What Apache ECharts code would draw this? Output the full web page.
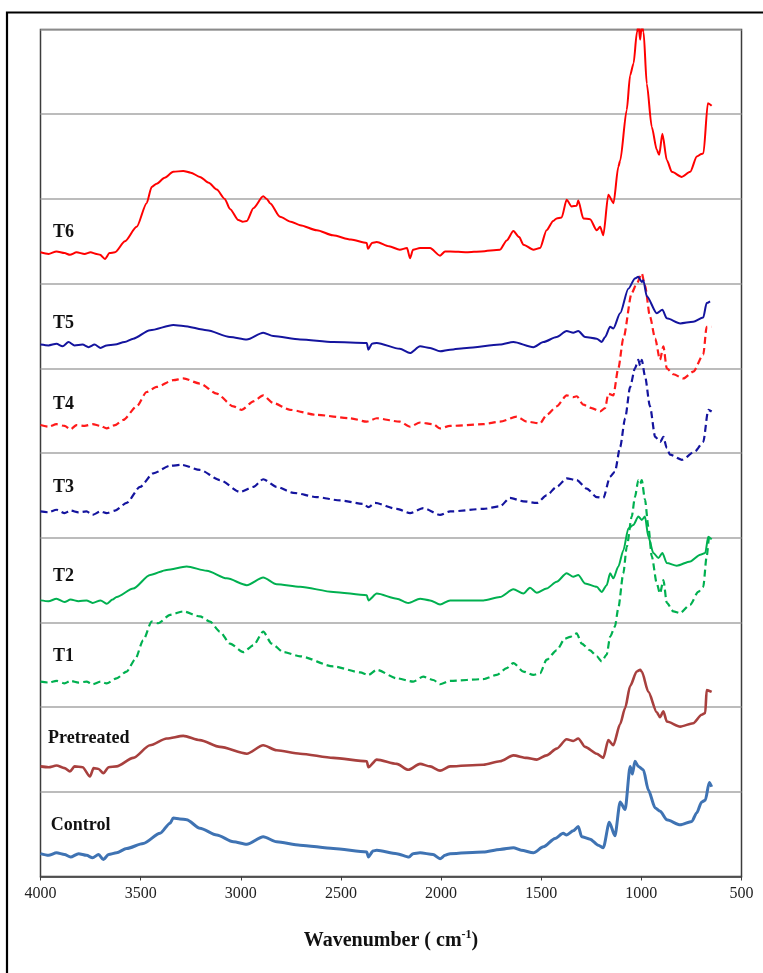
<!DOCTYPE html>
<html>
<head>
<meta charset="utf-8">
<script src="https://cdn.jsdelivr.net/npm/echarts@6/dist/echarts.min.js"></script>
<style>
  html, body { margin: 0; padding: 0; background: #fff; }
  #chart { width: 763px; height: 973px; }
</style>
</head>
<body>
<div id="chart"></div>
<script>
// FTIR spectra, stacked with vertical offsets (one grid band per sample).
// Each array holds [wavenumber (cm-1), offset absorbance] pairs.

const seriesNames = ['T6', 'T5', 'T4', 'T3', 'T2', 'T1', 'Pretreated', 'Control'];

const t6 = [
  [4000,7.37],[3960,7.35],[3920,7.38],[3880,7.36],[3853,7.34],[3820,7.37],[3780,7.35],[3750,7.37],[3720,7.35],[3703,7.34],[3678,7.29],[3655,7.36],[3628,7.37],
  [3578,7.50],[3520,7.67],[3470,7.95],[3445,8.14],[3420,8.18],[3380,8.25],[3337,8.32],[3287,8.33],[3250,8.31],[3204,8.26],[3160,8.19],[3120,8.11],
  [3080,8.00],[3054,7.88],[3012,7.75],[2990,7.73],[2970,7.74],[2937,7.89],[2888,8.03],[2870,8.00],[2854,7.95],[2804,7.79],[2750,7.73],[2704,7.69],
  [2620,7.63],[2540,7.57],[2450,7.52],[2371,7.48],[2365,7.41],[2345,7.48],[2321,7.49],[2260,7.44],[2206,7.40],[2170,7.42],[2155,7.30],[2140,7.40],
  [2105,7.42],[2055,7.42],[2005,7.33],[1980,7.38],[1955,7.38],[1872,7.37],[1800,7.38],[1706,7.40],[1672,7.51],[1639,7.62],[1610,7.55],[1589,7.46],
  [1539,7.40],[1506,7.42],[1473,7.63],[1440,7.74],[1423,7.77],[1398,7.78],[1373,7.99],[1348,7.91],[1323,7.92],[1315,7.98],[1290,7.77],[1256,7.76],
  [1223,7.63],[1206,7.67],[1190,7.57],[1165,8.05],[1139,7.95],[1115,8.38],[1106,8.45],[1073,9.05],[1056,9.46],[1039,9.60],[1022,9.97],[1014,10.05],
  [1006,9.88],[998,10.05],[989,9.97],[973,9.36],[948,8.85],[923,8.58],[911,8.52],[895,8.77],[873,8.46],[848,8.32],[798,8.26],[756,8.32],
  [723,8.50],[700,8.53],[690,8.54],[668,9.13],[649,9.10]
];

const t5 = [
  [4000,6.28],[3960,6.27],[3920,6.29],[3890,6.26],[3860,6.31],[3830,6.27],[3790,6.28],[3760,6.25],[3730,6.28],[3700,6.24],[3670,6.27],[3628,6.28],
  [3580,6.31],[3537,6.35],[3453,6.45],[3337,6.51],[3287,6.50],[3170,6.45],[3054,6.37],[2970,6.34],[2888,6.42],[2838,6.38],[2704,6.34],
  [2538,6.31],[2371,6.30],[2363,6.22],[2345,6.29],[2321,6.30],[2206,6.23],[2155,6.18],[2105,6.26],[2055,6.24],[2005,6.20],[1955,6.22],
  [1872,6.24],[1706,6.28],[1639,6.31],[1539,6.25],[1489,6.31],[1423,6.37],[1373,6.44],[1340,6.42],[1315,6.44],[1281,6.37],[1223,6.35],
  [1198,6.31],[1181,6.37],[1156,6.49],[1140,6.47],[1106,6.65],[1065,6.94],[1032,7.06],[1015,7.08],[998,7.02],[990,7.04],[973,6.85],
  [923,6.65],[895,6.69],[873,6.59],[806,6.53],[741,6.55],[691,6.60],[674,6.77],[657,6.79]
];

const t4 = [
  [4000,5.33],[3960,5.31],[3920,5.34],[3880,5.32],[3850,5.28],[3820,5.33],[3780,5.32],[3740,5.34],[3700,5.32],[3670,5.29],[3628,5.33],
  [3587,5.39],[3520,5.55],[3470,5.72],[3420,5.78],[3337,5.86],[3287,5.88],[3204,5.82],[3120,5.70],[3037,5.55],[2995,5.51],[2937,5.61],
  [2888,5.68],[2838,5.59],[2754,5.51],[2621,5.45],[2454,5.41],[2371,5.37],[2321,5.41],[2206,5.37],[2155,5.31],[2105,5.36],[2039,5.34],
  [2005,5.29],[1955,5.32],[1789,5.34],[1706,5.37],[1622,5.43],[1572,5.37],[1506,5.35],[1473,5.45],[1423,5.55],[1373,5.68],[1340,5.66],
  [1323,5.67],[1290,5.57],[1248,5.53],[1206,5.49],[1181,5.53],[1165,5.70],[1140,5.68],[1115,6.00],[1090,6.35],[1048,6.89],[1023,7.00],
  [998,7.12],[982,6.98],[957,6.61],[931,6.35],[907,6.10],[890,6.26],[873,6.00],[840,5.93],[790,5.88],[741,5.96],[691,6.16],[674,6.49],[649,6.49]
];

const t3 = [
  [4000,4.31],[3960,4.30],[3920,4.33],[3880,4.29],[3850,4.32],[3810,4.30],[3770,4.31],[3740,4.27],[3700,4.31],[3670,4.29],[3628,4.32],
  [3570,4.41],[3503,4.60],[3437,4.76],[3353,4.85],[3295,4.86],[3204,4.80],[3104,4.68],[3004,4.54],[2937,4.60],[2888,4.69],[2821,4.60],
  [2738,4.53],[2621,4.48],[2504,4.44],[2388,4.40],[2363,4.36],[2330,4.41],[2221,4.34],[2155,4.29],[2089,4.35],[2005,4.27],[1955,4.31],
  [1789,4.34],[1706,4.37],[1656,4.47],[1589,4.43],[1522,4.41],[1473,4.50],[1423,4.60],[1373,4.70],[1323,4.68],[1273,4.58],[1223,4.48],
  [1190,4.47],[1156,4.72],[1132,4.78],[1106,5.07],[1081,5.41],[1056,5.78],[1032,6.00],[1015,6.10],[1006,6.03],[998,6.10],[982,5.91],
  [957,5.55],[931,5.19],[906,5.13],[890,5.19],[873,5.06],[857,4.98],[798,4.92],[732,5.02],[691,5.13],[666,5.51],[649,5.49]
];

const t2 = [
  [4000,3.26],[3960,3.25],[3920,3.28],[3880,3.24],[3850,3.27],[3810,3.25],[3770,3.26],[3740,3.23],[3700,3.26],[3670,3.22],[3640,3.27],
  [3620,3.30],[3537,3.40],[3453,3.56],[3370,3.62],[3270,3.66],[3170,3.61],[3070,3.52],[2970,3.44],[2888,3.53],[2821,3.45],[2704,3.42],
  [2538,3.36],[2371,3.32],[2363,3.26],[2321,3.34],[2221,3.28],[2164,3.23],[2105,3.28],[2055,3.26],[2005,3.21],[1955,3.26],[1789,3.26],
  [1706,3.30],[1639,3.39],[1589,3.34],[1556,3.41],[1522,3.35],[1473,3.40],[1423,3.48],[1373,3.58],[1340,3.54],[1315,3.56],[1281,3.46],
  [1223,3.42],[1198,3.36],[1173,3.44],[1156,3.58],[1140,3.52],[1115,3.66],[1090,3.85],[1065,4.11],[1040,4.15],[1015,4.25],[998,4.21],
  [982,4.25],[965,4.01],[940,3.82],[915,3.76],[895,3.82],[873,3.70],[823,3.67],[756,3.72],[706,3.80],[681,3.82],[666,4.01],[649,3.98]
];

const t1 = [
  [4000,2.30],[3960,2.29],[3920,2.31],[3880,2.28],[3850,2.31],[3810,2.29],[3770,2.30],[3740,2.27],[3700,2.30],[3670,2.28],
  [3620,2.34],[3570,2.42],[3528,2.56],[3487,2.79],[3445,3.01],[3412,2.99],[3353,3.09],[3287,3.13],[3204,3.07],[3154,3.01],[3104,2.89],
  [3054,2.75],[2987,2.65],[2937,2.73],[2888,2.89],[2846,2.75],[2788,2.65],[2704,2.60],[2538,2.48],[2404,2.41],[2363,2.38],[2321,2.44],
  [2221,2.34],[2139,2.30],[2089,2.36],[2039,2.32],[2005,2.27],[1955,2.31],[1789,2.33],[1722,2.38],[1672,2.46],[1639,2.52],[1589,2.42],
  [1539,2.38],[1506,2.40],[1473,2.56],[1423,2.67],[1381,2.81],[1356,2.83],[1323,2.87],[1298,2.75],[1256,2.67],[1223,2.60],[1198,2.54],
  [1173,2.62],[1156,2.83],[1132,2.95],[1115,3.17],[1090,3.58],[1073,3.89],[1048,4.25],[1032,4.48],[1015,4.68],[1006,4.64],[998,4.68],
  [982,4.45],[965,4.13],[948,3.78],[923,3.46],[907,3.34],[890,3.50],[873,3.23],[840,3.13],[807,3.11],[756,3.21],[716,3.36],[691,3.42],
  [674,3.78],[661,4.01],[649,3.98]
];

const pretreated = [
  [4000,1.30],[3960,1.29],[3920,1.31],[3880,1.28],[3853,1.24],[3830,1.30],[3790,1.29],[3753,1.18],[3735,1.28],[3710,1.27],[3686,1.22],[3660,1.29],
  [3620,1.30],[3537,1.40],[3453,1.55],[3370,1.63],[3287,1.66],[3204,1.61],[3104,1.53],[2970,1.45],[2888,1.55],[2821,1.49],[2704,1.45],
  [2538,1.40],[2371,1.36],[2363,1.29],[2321,1.38],[2221,1.33],[2164,1.26],[2105,1.33],[2055,1.30],[2005,1.25],[1955,1.30],[1789,1.32],
  [1706,1.36],[1639,1.43],[1572,1.40],[1522,1.38],[1473,1.43],[1423,1.51],[1373,1.62],[1340,1.60],[1315,1.63],[1281,1.53],[1223,1.45],
  [1190,1.40],[1165,1.61],[1140,1.55],[1106,1.80],[1081,1.99],[1056,2.25],[1023,2.42],[1006,2.44],[998,2.42],[965,2.18],[923,1.94],
  [907,1.88],[890,1.95],[873,1.83],[806,1.77],[741,1.81],[699,1.91],[681,1.93],[674,2.20],[649,2.18]
];

const control = [
  [4000,0.27],[3960,0.25],[3920,0.28],[3880,0.26],[3850,0.23],[3810,0.27],[3770,0.25],[3740,0.22],[3710,0.26],[3686,0.20],[3660,0.26],
  [3620,0.28],[3570,0.33],[3487,0.39],[3403,0.51],[3353,0.63],[3337,0.69],[3304,0.68],[3270,0.67],[3204,0.57],[3120,0.49],[3037,0.41],
  [2970,0.38],[2888,0.47],[2821,0.41],[2704,0.37],[2538,0.33],[2371,0.29],[2363,0.23],[2340,0.30],[2321,0.31],[2221,0.27],[2160,0.23],
  [2140,0.27],[2105,0.28],[2040,0.26],[2005,0.21],[1980,0.25],[1955,0.27],[1789,0.29],[1706,0.32],[1639,0.34],[1600,0.31],[1539,0.28],
  [1489,0.35],[1431,0.45],[1390,0.51],[1373,0.49],[1340,0.54],[1315,0.59],[1298,0.47],[1256,0.44],[1215,0.37],[1190,0.34],[1160,0.64],
  [1132,0.48],[1106,0.88],[1081,0.79],[1056,1.30],[1045,1.21],[1032,1.36],[1015,1.30],[990,1.26],[965,1.02],[931,0.81],[906,0.77],
  [873,0.67],[806,0.61],[748,0.65],[724,0.75],[699,0.88],[681,0.90],[661,1.11],[649,1.06]
];

const spectra = [t6, t5, t4, t3, t2, t1, pretreated, control];

// Styling per trace: colour, dash, width, and where its name sits (data coords).
const styles = [
  { color: '#FF0000', type: 'solid',  width: 2,   tag: [3937, 7.61] },
  { color: '#14149E', type: 'solid',  width: 2,   tag: [3937, 6.53] },
  { color: '#FF1A1A', type: [7, 4],   width: 2.2, tag: [3937, 5.57] },
  { color: '#14149E', type: [7, 4],   width: 2.2, tag: [3937, 4.60] },
  { color: '#00B050', type: 'solid',  width: 2,   tag: [3937, 3.54] },
  { color: '#00B050', type: [7, 4],   width: 2.2, tag: [3937, 2.60] },
  { color: '#A8403E', type: 'solid',  width: 2.6, tag: [3962, 1.63] },
  { color: '#3F73B3', type: 'solid',  width: 3,   tag: [3949, 0.60] }
];

const serif = '"Liberation Serif", "Times New Roman", serif';

const series = spectra.map((data, i) => ({
  name: seriesNames[i],
  type: 'line',
  data: data,
  showSymbol: false,
  symbol: 'none',
  smooth: 0.25,
  smoothMonotone: 'x',
  clip: true,
  lineStyle: { color: styles[i].color, width: styles[i].width, type: styles[i].type },
  z: 10 - i,
  markPoint: {
    symbol: 'circle',
    symbolSize: 0,
    silent: true,
    label: {
      show: true,
      position: [0, 0],
      align: 'left',
      verticalAlign: 'middle',
      formatter: seriesNames[i],
      color: '#111',
      fontFamily: serif,
      fontWeight: 'bold',
      fontSize: 18
    },
    data: [{ coord: styles[i].tag }]
  }
}));

const chart = echarts.init(document.getElementById('chart'), null, { renderer: 'canvas' });

chart.setOption({
  animation: false,
  backgroundColor: '#ffffff',
  grid: {
    left: 40.5, top: 29.5, right: 21.5, bottom: 96.5,
    show: true,
    borderColor: '#3c3c3c',
    borderWidth: 1.5,
    backgroundColor: 'transparent'
  },
  xAxis: {
    type: 'value',
    inverse: true,
    min: 500,
    max: 4000,
    interval: 500,
    axisLine: { show: true, lineStyle: { color: '#3c3c3c', width: 1.5 } },
    axisTick: { show: true, inside: false, length: 4, lineStyle: { color: '#3c3c3c', width: 1 } },
    splitLine: { show: false },
    axisLabel: { color: '#222', fontFamily: serif, fontSize: 16, margin: 9, formatter: (v) => String(v) },
    name: '{b|Wavenumber ( cm}{s|-1}{b|)}',
    nameLocation: 'middle',
    nameGap: 52,
    nameTextStyle: {
      rich: {
        b: { fontFamily: serif, fontWeight: 'bold', fontSize: 20, color: '#111', verticalAlign: 'bottom', lineHeight: 22 },
        s: { fontFamily: serif, fontWeight: 'bold', fontSize: 12, color: '#111', verticalAlign: 'top', lineHeight: 22, padding: [0, 0, 9, 0] }
      }
    }
  },
  yAxis: {
    type: 'value',
    min: 0,
    max: 10,
    interval: 1,
    axisLine: { show: false },
    axisTick: { show: false },
    axisLabel: { show: false },
    splitLine: { show: true, lineStyle: { color: '#a6a6a6', width: 1.5 } }
  },
  graphic: [
    {
      type: 'rect',
      silent: true,
      shape: { x: 7, y: 12.5, width: 800, height: 1000 },
      style: { fill: 'none', stroke: '#000', lineWidth: 2.2 },
      z: 100
    }
  ],
  series: series
});
</script>
</body>
</html>
